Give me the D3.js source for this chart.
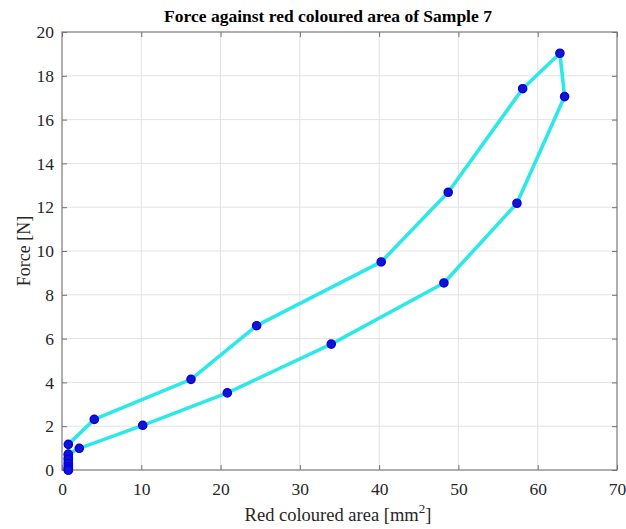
<!DOCTYPE html>
<html>
<head>
<meta charset="utf-8">
<script src="https://cdn.jsdelivr.net/npm/d3@7"></script>
<style>
  html, body { margin: 0; padding: 0; background: #fff; }
  svg { display: block; font-family: "Liberation Serif", "Times New Roman", serif; }
</style>
</head>
<body>
<svg id="chart" width="626" height="529"></svg>
<script>
// Red coloured area [mm^2] and measured force [N] for Sample 7, loading then unloading
const area = [0.8, 0.8, 0.8, 0.8, 0.8, 0.8, 0.8, 4.07, 16.27, 24.55, 40.26, 48.71, 58.1, 62.8,
              63.39, 57.38, 48.17, 33.96, 20.85, 10.18, 2.18, 0.8, 0.8, 0.8, 0.8, 0.8, 0.8];
const force = [0, 0.1, 0.25, 0.4, 0.55, 0.7, 1.17, 2.31, 4.14, 6.59, 9.5, 12.68, 17.41, 19.03,
               17.05, 12.18, 8.54, 5.75, 3.52, 2.04, 0.99, 0.72, 0.5, 0.3, 0.15, 0.05, 0];
const xTicks = [0, 10, 20, 30, 40, 50, 60, 70];
const yTicks = [0, 2, 4, 6, 8, 10, 12, 14, 16, 18, 20];

const svg = d3.select("#chart");
const m = { left: 62, right: 617, top: 32, bottom: 470 };

const x = d3.scaleLinear().domain([0, 70]).range([m.left, m.right]);
const y = d3.scaleLinear().domain([0, 20]).range([m.bottom, m.top]);

// grid
svg.append("g").selectAll("line").data(xTicks.slice(1, -1)).join("line")
  .attr("x1", d => x(d)).attr("x2", d => x(d))
  .attr("y1", m.top).attr("y2", m.bottom)
  .attr("stroke", "#e3e3e3").attr("stroke-width", 1);
svg.append("g").selectAll("line").data(yTicks.slice(1, -1)).join("line")
  .attr("x1", m.left).attr("x2", m.right)
  .attr("y1", d => y(d)).attr("y2", d => y(d))
  .attr("stroke", "#e3e3e3").attr("stroke-width", 1);

// axes with inward ticks, box style
const tickLen = 5;
const styleAxis = g => {
  g.select(".domain").remove();
  g.selectAll(".tick line").attr("stroke", "#6e6e6e");
  g.selectAll(".tick text").attr("fill", "#262626")
    .style("font-family", "Liberation Serif, serif").style("font-size", "17.5px");
};
svg.append("g").attr("transform", `translate(0,${m.bottom})`)
  .call(d3.axisBottom(x).tickValues(xTicks).tickSize(-tickLen).tickPadding(13).tickFormat(d3.format("d")))
  .call(styleAxis);
svg.append("g").attr("transform", `translate(0,${m.top})`)
  .call(d3.axisTop(x).tickValues(xTicks).tickSize(-tickLen).tickFormat(""))
  .call(styleAxis);
svg.append("g").attr("transform", `translate(${m.left},0)`)
  .call(d3.axisLeft(y).tickValues(yTicks).tickSize(-tickLen).tickPadding(8).tickFormat(d3.format("d")))
  .call(styleAxis);
svg.append("g").attr("transform", `translate(${m.right},0)`)
  .call(d3.axisRight(y).tickValues(yTicks).tickSize(-tickLen).tickFormat(""))
  .call(styleAxis);

svg.append("rect")
  .attr("x", m.left).attr("y", m.top)
  .attr("width", m.right - m.left).attr("height", m.bottom - m.top)
  .attr("fill", "none").attr("stroke", "#7a7a7a").attr("stroke-width", 1.2);

// curve
const pts = area.map((a, i) => [a, force[i]]);
svg.append("path")
  .datum(pts)
  .attr("d", d3.line().x(d => x(d[0])).y(d => y(d[1])))
  .attr("fill", "none").attr("stroke", "#2ee8e8").attr("stroke-width", 3.6)
  .attr("stroke-linejoin", "round").attr("stroke-linecap", "round");

// markers
svg.append("g").selectAll("circle").data(pts).join("circle")
  .attr("cx", d => x(d[0])).attr("cy", d => y(d[1])).attr("r", 4.1)
  .attr("fill", "#1414c8").attr("stroke", "#0000f0").attr("stroke-width", 1.4);

// title and labels
svg.append("text").attr("x", 328).attr("y", 22)
  .attr("text-anchor", "middle").attr("font-weight", "bold").attr("font-size", "17.5px")
  .attr("fill", "#000").text("Force against red coloured area of Sample 7");

const xl = svg.append("text").attr("x", 338).attr("y", 521)
  .attr("text-anchor", "middle").attr("font-size", "18.5px").attr("fill", "#262626");
xl.append("tspan").text("Red coloured area [mm");
xl.append("tspan").attr("font-size", "13px").attr("dy", -8).text("2");
xl.append("tspan").attr("dy", 8).text("]");

svg.append("text")
  .attr("transform", `translate(30,${(m.top + m.bottom) / 2}) rotate(-90)`)
  .attr("text-anchor", "middle").attr("font-size", "18px").attr("fill", "#262626")
  .text("Force [N]");
</script>
</body>
</html>
